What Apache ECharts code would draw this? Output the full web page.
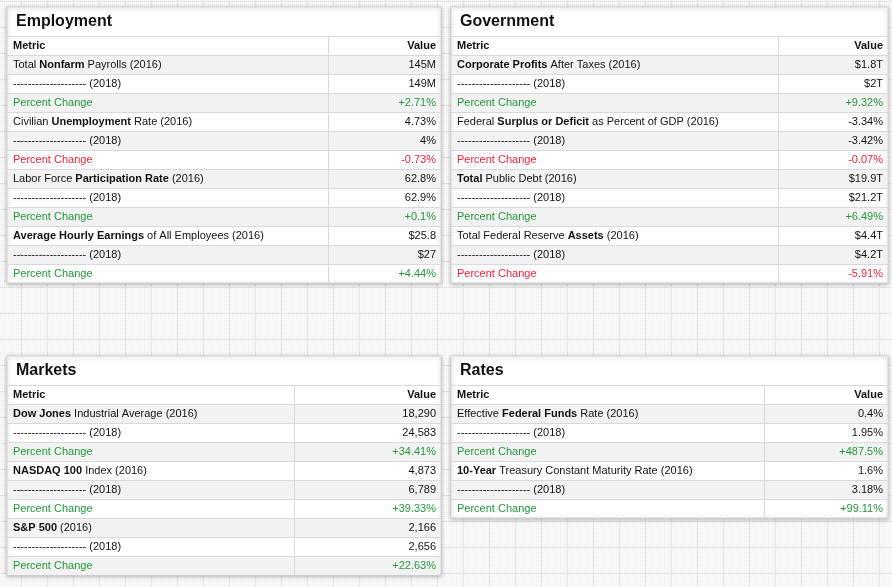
<!DOCTYPE html>
<html>
<head>
<meta charset="utf-8">
<script src="https://cdn.jsdelivr.net/npm/echarts@6/dist/echarts.min.js"></script>
<style>
html,body{margin:0;padding:0;background:#f8f8f8;}
#chart{width:892px;height:587px;}
</style>
</head>
<body>
<div id="chart"></div>
<script>
// ---- data ----
const panelTitles = ['Employment', 'Government', 'Markets', 'Rates'];
const headerLabels = ['Metric', 'Value'];
// metric label pieces: [plain prefix, bold part, plain suffix]
const employmentMetrics = [
  ['Total ', 'Nonfarm', ' Payrolls'],
  ['Civilian ', 'Unemployment', ' Rate'],
  ['Labor Force ', 'Participation Rate', ''],
  ['', 'Average Hourly Earnings', ' of All Employees']
];
const employment2016 = ['145M', '4.73%', '62.8%', '$25.8'];
const employment2018 = ['149M', '4%', '62.9%', '$27'];
const employmentChange = ['+2.71%', '-0.73%', '+0.1%', '+4.44%'];

const governmentMetrics = [
  ['', 'Corporate Profits', ' After Taxes'],
  ['Federal ', 'Surplus or Deficit', ' as Percent of GDP'],
  ['', 'Total', ' Public Debt'],
  ['Total Federal Reserve ', 'Assets', '']
];
const government2016 = ['$1.8T', '-3.34%', '$19.9T', '$4.4T'];
const government2018 = ['$2T', '-3.42%', '$21.2T', '$4.2T'];
const governmentChange = ['+9.32%', '-0.07%', '+6.49%', '-5.91%'];

const marketsMetrics = [
  ['', 'Dow Jones', ' Industrial Average'],
  ['', 'NASDAQ 100', ' Index'],
  ['', 'S&P 500', '']
];
const markets2016 = ['18,290', '4,873', '2,166'];
const markets2018 = ['24,583', '6,789', '2,656'];
const marketsChange = ['+34.41%', '+39.33%', '+22.63%'];

const ratesMetrics = [
  ['Effective ', 'Federal Funds', ' Rate'],
  ['', '10-Year', ' Treasury Constant Maturity Rate']
];
const rates2016 = ['0.4%', '1.6%'];
const rates2018 = ['1.95%', '3.18%'];
const ratesChange = ['+487.5%', '+99.11%'];

const yearA = '2016', yearB = '2018';
const dashLabel = '--------------------';
const changeLabel = 'Percent Change';

// ---- layout / style ----
const FONT = "'Liberation Sans', Arial, Helvetica, sans-serif";
const GREEN = '#23993b', RED = '#f5223c', TEXT = '#111111';
const panelBoxes = [
  {x: 7, y: 7, w: 434, col: 328},
  {x: 451, y: 7, w: 437, col: 778},
  {x: 7, y: 356, w: 434, col: 294},
  {x: 451, y: 356, w: 437, col: 764}
];
const TITLE_H = 29, ROW_H = 19;

const panelData = [
  [employmentMetrics, employment2016, employment2018, employmentChange],
  [governmentMetrics, government2016, government2018, governmentChange],
  [marketsMetrics, markets2016, markets2018, marketsChange],
  [ratesMetrics, rates2016, rates2018, ratesChange]
];

function buildRows(d) {
  const rows = [];
  d[0].forEach((m, i) => {
    const parts = [];
    if (m[0]) parts.push('{n|' + m[0] + '}');
    parts.push('{b|' + m[1] + '}');
    parts.push('{n|' + m[2] + ' (' + yearA + ')}');
    rows.push({label: parts.join(''), value: d[1][i], color: TEXT});
    rows.push({label: '{n|' + dashLabel + ' (' + yearB + ')}', value: d[2][i], color: TEXT});
    const c = d[3][i].charAt(0) === '-' ? RED : GREEN;
    rows.push({label: '{c|' + changeLabel + '}', value: d[3][i], color: c, cColor: c});
  });
  return rows;
}

// background pattern
const pat = document.createElement('canvas');
pat.width = 26; pat.height = 26;
const pc = pat.getContext('2d');
pc.fillStyle = '#fbfbfb';
pc.fillRect(0, 0, 26, 26);
pc.fillStyle = '#eeeeee';
for (let i = 0; i < 26; i += 2) for (let j = 0; j < 26; j += 2) pc.fillRect(i, j, 1, 1);
pc.fillStyle = '#e6e6e6';
pc.fillRect(21, 0, 1, 26);
pc.fillRect(0, 1, 26, 1);

const elements = [{
  type: 'rect', z: 0, silent: true,
  shape: {x: 0, y: 0, width: 892, height: 587},
  style: {fill: {image: pat, repeat: 'repeat'}}
}];

panelData.forEach((d, p) => {
  const B = panelBoxes[p];
  const rows = buildRows(d);
  const tableTop = B.y + TITLE_H;
  const H = TITLE_H + ROW_H * (rows.length + 1);
  elements.push({
    type: 'rect', z: 1, silent: true,
    shape: {x: B.x, y: B.y, width: B.w, height: H},
    style: {fill: '#fff', stroke: '#d6d6d6', lineWidth: 1,
      shadowBlur: 4, shadowOffsetY: 1, shadowColor: 'rgba(0,0,0,0.28)'}
  });
  elements.push({
    type: 'text', z: 3, silent: true, x: B.x + 9, y: B.y + 15,
    style: {text: panelTitles[p], font: 'bold 16px ' + FONT, fill: '#111', verticalAlign: 'middle'}
  });
  const allRows = [{label: '{b|' + headerLabels[0] + '}', value: headerLabels[1], color: TEXT, header: true}].concat(rows);
  allRows.forEach((r, i) => {
    const y0 = tableTop + ROW_H * i;
    if (i % 2 === 1) {
      elements.push({type: 'rect', z: 2, silent: true,
        shape: {x: B.x + 1, y: y0, width: B.w - 2, height: ROW_H},
        style: {fill: '#f2f2f2'}});
    }
    elements.push({type: 'line', z: 3, silent: true,
      shape: {x1: B.x, y1: y0 + 0.5, x2: B.x + B.w, y2: y0 + 0.5},
      style: {stroke: '#d9d9d9', lineWidth: 1}});
    const cy = y0 + ROW_H / 2 + 0.5;
    elements.push({type: 'text', z: 4, silent: true, x: B.x + 6, y: cy,
      style: {text: r.label, verticalAlign: 'middle', font: '11px ' + FONT, fill: TEXT,
        rich: {
          n: {font: '11px ' + FONT, fill: TEXT},
          b: {font: 'bold 11px ' + FONT, fill: TEXT},
          c: {font: '11px ' + FONT, fill: r.cColor || TEXT}
        }}});
    elements.push({type: 'text', z: 4, silent: true, x: B.x + B.w - 5, y: cy,
      style: {text: r.value, align: 'right', verticalAlign: 'middle',
        font: (r.header ? 'bold ' : '') + '11px ' + FONT, fill: r.color}});
  });
  elements.push({type: 'line', z: 3, silent: true,
    shape: {x1: B.col + 0.5, y1: tableTop, x2: B.col + 0.5, y2: B.y + H},
    style: {stroke: '#d9d9d9', lineWidth: 1}});
});

const chart = echarts.init(document.getElementById('chart'), null, {renderer: 'canvas'});
chart.setOption({
  backgroundColor: '#f8f8f8',
  animation: false,
  graphic: {elements: elements}
});
</script>
</body>
</html>
